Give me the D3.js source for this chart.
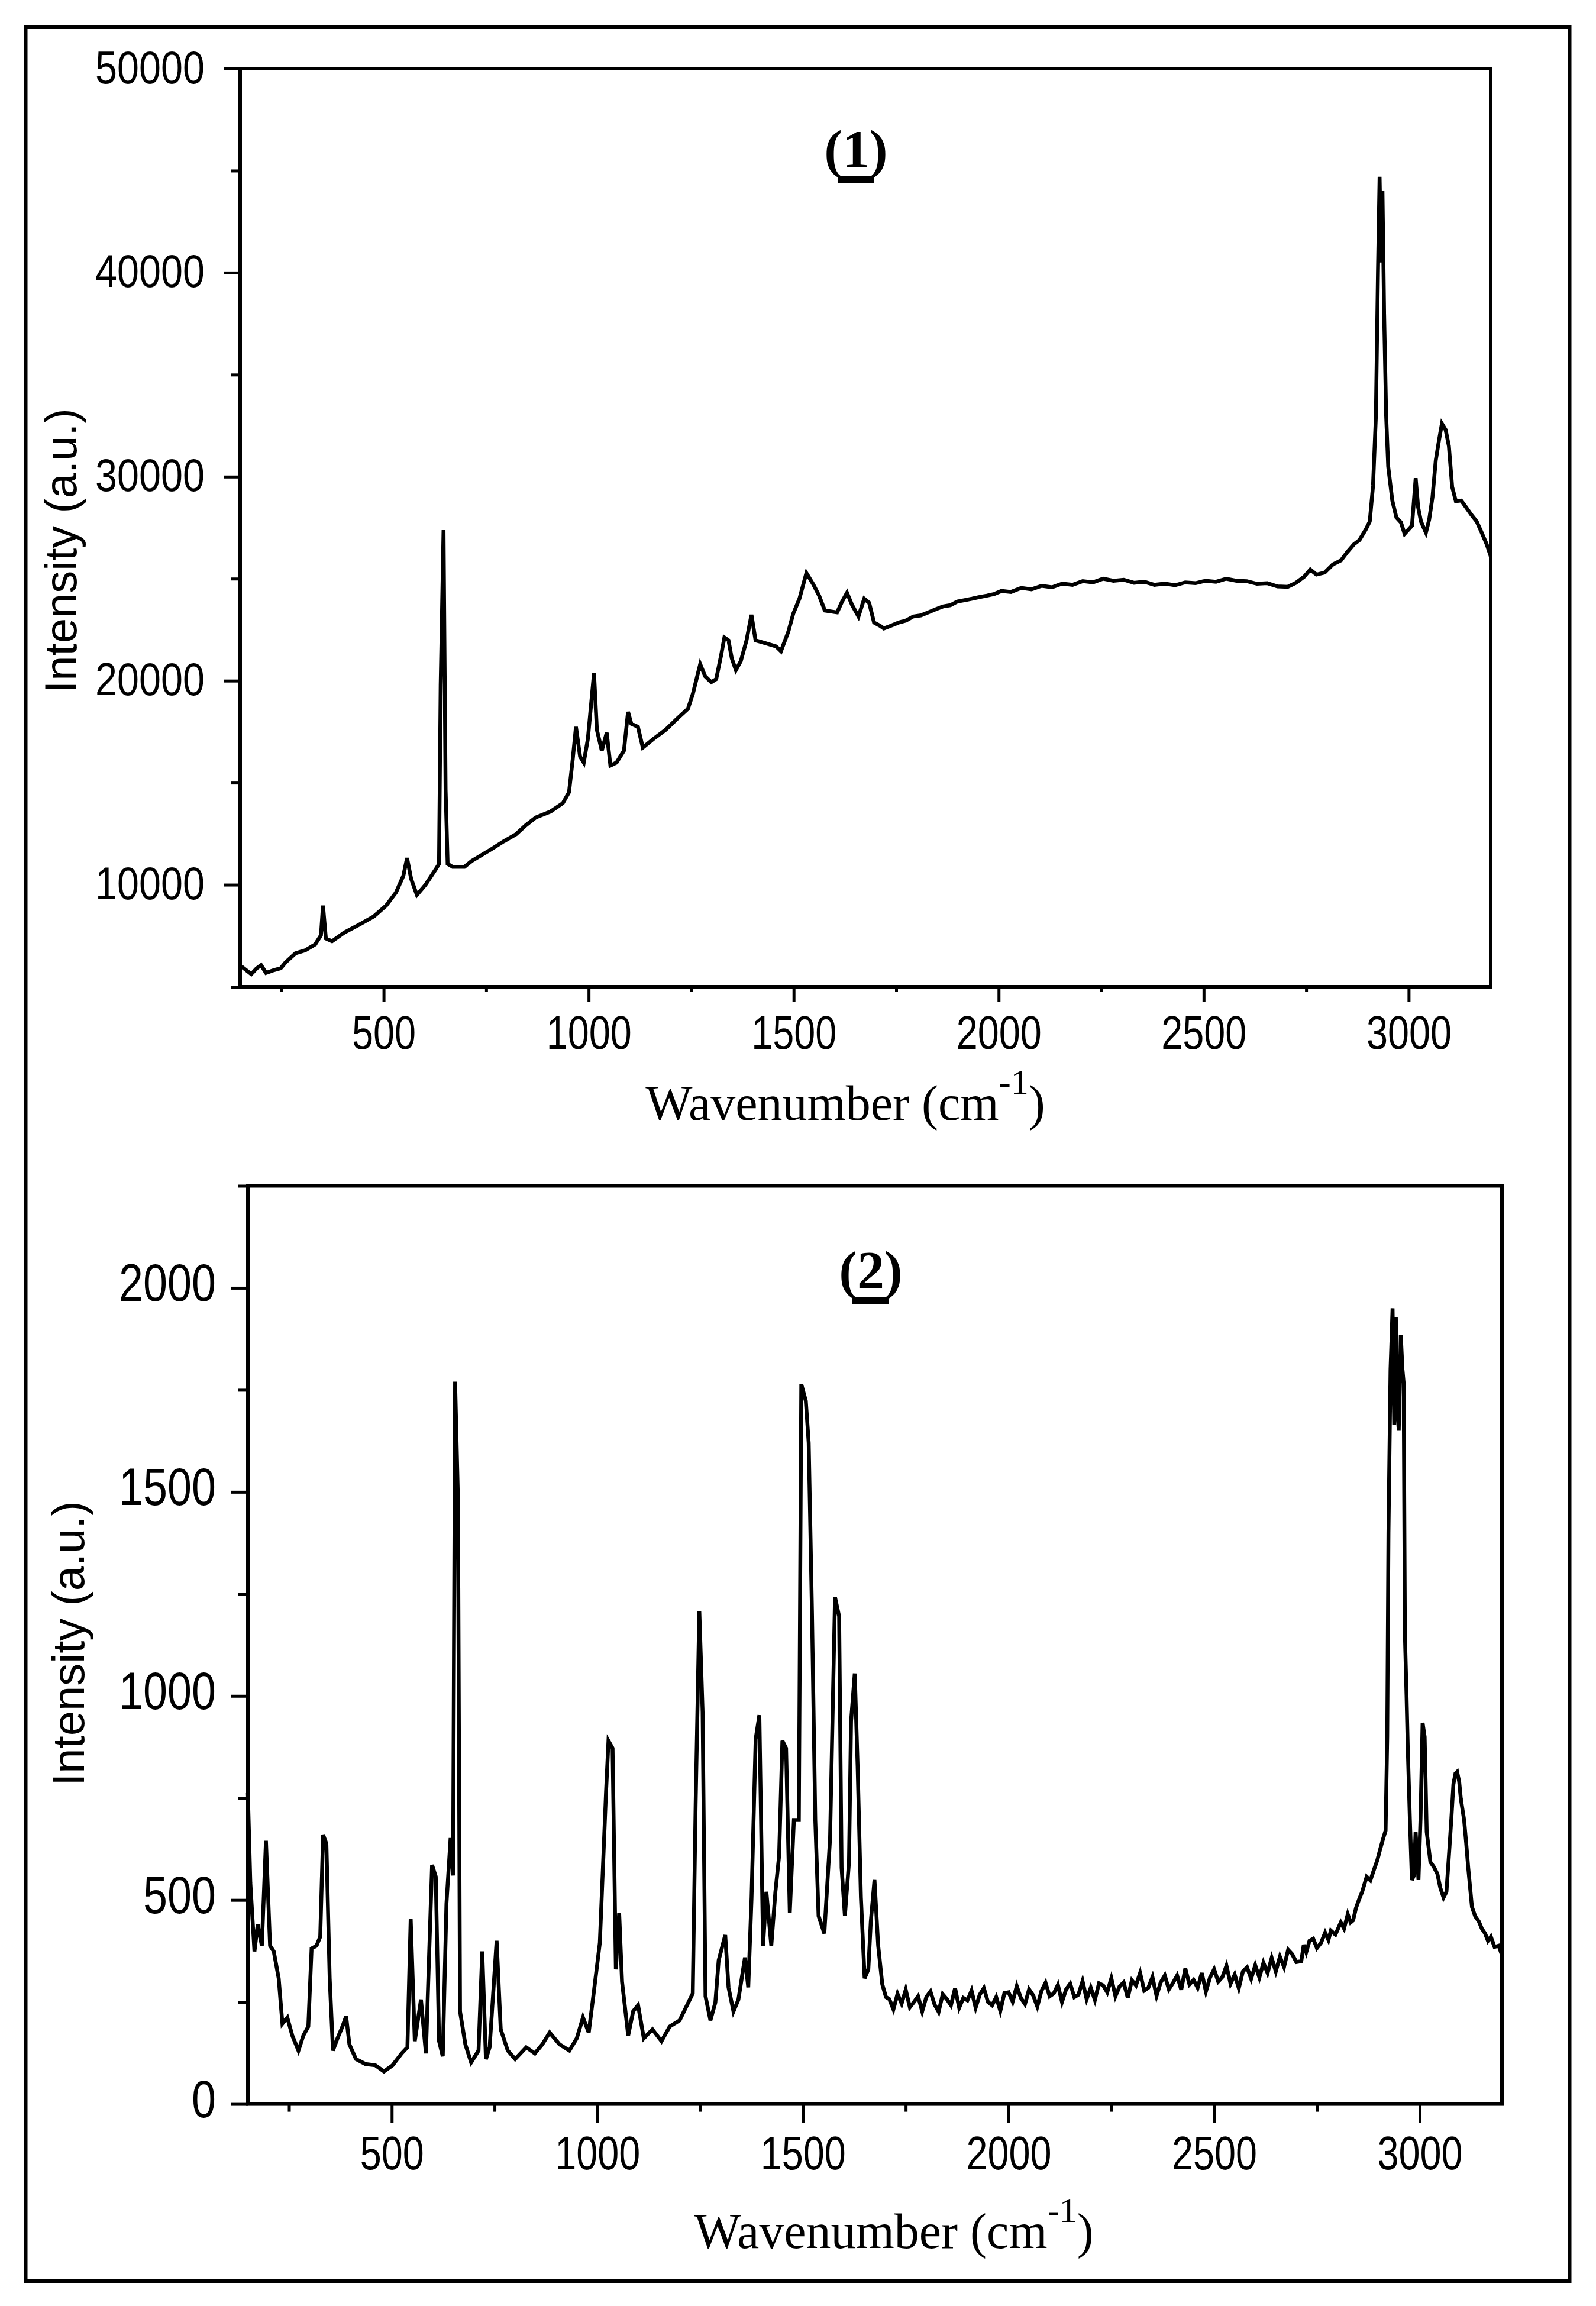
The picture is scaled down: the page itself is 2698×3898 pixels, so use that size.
<!DOCTYPE html>
<html>
<head>
<meta charset="UTF-8">
<title>Raman spectra (1) and (2)</title>
<script src="https://d3js.org/d3.v7.min.js"></script>
<style>
  body { margin: 0; background: #fff; }
  .trace { fill: none; stroke: #000; stroke-width: 6.5px; stroke-linejoin: miter; }
  .frame { fill: none; stroke: #000; stroke-width: 6px; }
  .tick line { stroke: #000; stroke-width: 5px; }
</style>
</head>
<body>
<script>
// ---- data ----
// spectrum (1): wavenumber (cm-1) / intensity (a.u.)
var wn1 = [153, 177, 190, 201, 213, 230, 249, 261, 285, 309, 333, 347, 352, 359, 374, 404, 440, 476, 506, 530,
  548, 557, 567, 581, 602, 626, 635, 639, 646, 651, 656, 668, 697, 715, 739, 763, 793, 823, 847, 871,
  907, 937, 952, 961, 969, 979, 988, 998, 1013, 1020, 1032, 1044, 1053, 1068, 1086, 1096, 1104, 1120, 1132, 1158,
  1188, 1218, 1242, 1254, 1272, 1284, 1299, 1311, 1323, 1331, 1341, 1349, 1359, 1371, 1385, 1397, 1407, 1433, 1457, 1469,
  1487, 1499, 1514, 1531, 1547, 1562, 1576, 1606, 1618, 1630, 1642, 1658, 1672, 1684, 1696, 1710, 1720, 1738, 1756, 1774,
  1792, 1810, 1828, 1846, 1864, 1882, 1899, 1917, 1935, 1953, 1971, 1989, 2007, 2030, 2055, 2080, 2105, 2130, 2155, 2180,
  2205, 2230, 2255, 2280, 2305, 2330, 2355, 2380, 2405, 2430, 2455, 2480, 2505, 2530, 2555, 2580, 2605, 2630, 2655, 2680,
  2705, 2725, 2745, 2760, 2775, 2795, 2815, 2835, 2850, 2866, 2880, 2895, 2905, 2913, 2920, 2925, 2929, 2933, 2936, 2940,
  2945, 2950, 2960, 2970, 2981, 2990, 2999, 3008, 3017, 3023, 3030, 3042, 3050, 3058, 3066, 3074, 3081, 3090, 3098, 3106,
  3115, 3128, 3140, 3153, 3166, 3178, 3190, 3200];
var int1 = [6000, 5620, 5900, 6060, 5680, 5800, 5910, 6200, 6640, 6790, 7080, 7520, 8980, 7370, 7230, 7660, 8040, 8450, 8980, 9620,
  10440, 11310, 10290, 9500, 10000, 10730, 11020, 19790, 27380, 14670, 11020, 10880, 10880, 11170, 11460, 11750, 12130, 12480, 12920, 13300,
  13590, 14000, 14530, 16130, 17740, 16280, 15990, 17150, 20370, 17600, 16570, 17450, 15840, 15990, 16570, 18470, 17890, 17740, 16720, 17150,
  17600, 18180, 18620, 19350, 20810, 20220, 19930, 20080, 21250, 22120, 21980, 21100, 20520, 20960, 21980, 23230, 21980, 21830, 21680, 21450,
  22410, 23290, 24020, 25280, 24750, 24170, 23440, 23350, 23880, 24310, 23730, 23150, 24020, 23820, 22850, 22700, 22560, 22700, 22850, 22950,
  23150, 23200, 23350, 23500, 23640, 23700, 23880, 23950, 24020, 24100, 24170, 24250, 24400, 24350, 24550, 24480, 24650, 24580, 24760, 24700,
  24880, 24820, 25000, 24900, 24950, 24800, 24850, 24700, 24760, 24680, 24820, 24780, 24900, 24850, 25000, 24900, 24880, 24750, 24780, 24620,
  24600, 24800, 25100, 25450, 25200, 25300, 25700, 25900, 26300, 26680, 26900, 27400, 27800, 29560, 33000, 40000, 44700, 40500, 44000, 38000,
  33000, 30500, 28830, 28000, 27760, 27200, 27400, 27600, 29930, 28500, 27800, 27260, 27900, 29000, 30800, 31800, 32600, 32300, 31500, 29500,
  28800, 28830, 28500, 28130, 27800, 27260, 26700, 26100];

// spectrum (2)
var wn2 = [150, 156, 166, 174, 184, 194, 204, 213, 225, 234, 246, 258, 273, 285, 297, 305, 317, 326, 333, 341,
  349, 357, 368, 380, 389, 397, 413, 436, 460, 481, 502, 524, 538, 546, 556, 571, 583, 598, 607, 615,
  624, 633, 643, 649, 654, 661, 666, 679, 693, 711, 720, 729, 738, 755, 765, 782, 800, 827, 848, 866,
  884, 908, 932, 950, 965, 979, 991, 1006, 1021, 1027, 1037, 1045, 1053, 1060, 1075, 1087, 1099, 1113, 1134, 1156,
  1176, 1200, 1218, 1232, 1239, 1248, 1256, 1263, 1275, 1287, 1295, 1311, 1319, 1331, 1343, 1359, 1367, 1375, 1385, 1394,
  1403, 1411, 1423, 1433, 1442, 1450, 1459, 1468, 1478, 1490, 1496, 1507, 1514, 1522, 1530, 1538, 1552, 1566, 1578, 1588,
  1594, 1602, 1612, 1617, 1626, 1633, 1641, 1650, 1659, 1665, 1674, 1683, 1693, 1702,
  1710, 1720, 1730, 1740, 1750, 1760, 1770, 1780, 1790, 1800, 1810, 1820, 1830, 1840, 1850, 1860, 1870, 1880, 1890, 1900,
  1910, 1920, 1930, 1940, 1950, 1960, 1970, 1980, 1990, 2000, 2010, 2020, 2030, 2040, 2050, 2060, 2070, 2080, 2090, 2100,
  2110, 2120, 2130, 2140, 2150, 2160, 2170, 2180, 2190, 2200, 2210, 2220, 2230, 2240, 2250, 2260, 2270, 2280, 2290, 2300,
  2310, 2320, 2330, 2340, 2350, 2360, 2370, 2380, 2390, 2400, 2410, 2420, 2430, 2440, 2450, 2460, 2470, 2480, 2490, 2500,
  2510, 2520, 2530, 2540, 2550, 2560, 2570, 2580, 2590, 2600, 2610, 2620, 2630, 2640, 2650, 2660, 2670, 2680, 2690, 2700,
  2712, 2718, 2724, 2732, 2741, 2750, 2760, 2770, 2778, 2784, 2795, 2808, 2816, 2825, 2832, 2838, 2845, 2852, 2860, 2871,
  2880, 2889, 2897, 2904, 2911, 2917, 2921, 2924, 2929, 2934, 2938, 2942, 2946, 2949, 2954, 2958, 2961, 2964, 2968, 2971,
  2976, 2981, 2986, 2990, 2994, 2997, 3002, 3007, 3012, 3017, 3026, 3035, 3043, 3050, 3058, 3065, 3072, 3077, 3082, 3087,
  3091, 3096, 3100, 3108, 3113, 3118, 3127, 3135, 3144, 3151, 3159, 3166, 3173, 3182, 3192, 3200];
var int2 = [762, 542, 374, 440, 388, 645, 388, 374, 308, 197, 212, 168, 131, 168, 190, 381, 388, 410, 660, 638,
  308, 131, 161, 190, 215, 146, 110, 98, 95, 80, 95, 124, 139, 454, 154, 256, 124, 586, 557, 154,
  117, 491, 652, 560, 1770, 1481, 227, 146, 102, 131, 374, 110, 139, 400, 183, 131, 110, 139, 124, 146,
  175, 146, 131, 161, 212, 175, 271, 395, 762, 890, 872, 330, 469, 300, 168, 227, 242, 161, 183, 154,
  190, 205, 242, 271, 733, 1207, 960, 264, 205, 249, 352, 414, 286, 227, 256, 359, 286, 506, 894, 953,
  388, 520, 388, 520, 608, 890, 872, 469, 696, 696, 1764, 1723, 1620, 1202, 696, 461, 418, 652, 1242, 1195,
  579, 461, 593, 938, 1055, 828, 506, 308, 330, 447, 549, 388, 293, 262,
  257, 232, 270, 246, 280, 237, 250, 264, 227, 262, 276, 244, 226, 269, 257, 242, 284, 236, 260, 254,
  278, 236, 268, 284, 250, 242, 262, 228, 272, 274, 251, 289, 260, 245, 281, 266, 239, 277, 297, 264,
  271, 292, 250, 281, 295, 262, 268, 301, 257, 285, 255, 296, 291, 274, 308, 264, 288, 298, 260, 303,
  291, 321, 278, 285, 311, 265, 298, 315, 281, 297, 315, 280, 332, 293, 304, 285, 321, 276, 310, 330,
  300, 311, 339, 295, 317, 284, 325, 335, 307, 340, 310, 346, 321, 358, 325, 361, 336, 378, 367, 348,
  350, 390, 372, 400, 405, 382, 395, 420, 402, 425, 415, 445, 430, 465, 445, 450, 480, 500, 520, 557,
  548, 575, 598, 625, 650, 670, 900, 1400, 1800, 1950, 1664, 1928, 1700, 1650, 1884, 1800, 1767, 1151, 1000, 872,
  700, 549, 560, 667, 600, 549, 700, 934, 900, 667, 593, 580, 564, 530, 506, 520, 623, 700, 784, 810,
  814, 790, 748, 696, 640, 579, 483, 460, 447, 430, 418, 400, 410, 385, 388, 365];

var xTicks = [500, 1000, 1500, 2000, 2500, 3000];
var xMinor = [250, 750, 1250, 1750, 2250, 2750];
var yTicks1 = [10000, 20000, 30000, 40000, 50000];
var yMinor1 = [5000, 15000, 25000, 35000, 45000];
var yTicks2 = [0, 500, 1000, 1500, 2000];
var yMinor2 = [250, 750, 1250, 1750, 2250];
var titles = ["(", "1", ")", "(", "2", ")"];

// ---- layout ----
var W = 2698, H = 3898;
var svg = d3.select("body").append("svg")
  .attr("width", W).attr("height", H)
  .style("display", "block")
  .style("background", "#fff");

// outer border round both panels
svg.append("rect").attr("class", "frame")
  .attr("x", 43.5).attr("y", 46).attr("width", 2610).attr("height", 3810);

var panels = [
  { left: 406, right: 2520, top: 116, bottom: 1668,
    wn: wn1, val: int1, yDomain: [5000, 50000], yTicks: yTicks1, yMinor: yMinor1,
    xMajor: 26, xMinorLen: 9, xLabY: 105, xLabW: 36, xFont: 80,
    yLabGap: 60, yLabDy: 24, yLabW: 37, yFont: 78,
    title: titles.slice(0, 3), titleX: 1447, titleY: 283,
    yTitleX: 129, yTitleY: 931, xTitleX: 1429, xTitleY: 1893 },
  { left: 419, right: 2539, top: 2004.5, bottom: 3556.6,
    wn: wn2, val: int2, yDomain: [0, 2250], yTicks: yTicks2, yMinor: yMinor2,
    xMajor: 32, xMinorLen: 13, xLabY: 110, xLabW: 36, xFont: 80,
    yLabGap: 54, yLabDy: 22, yLabW: 41, yFont: 89,
    title: titles.slice(3, 6), titleX: 1472, titleY: 2178,
    yTitleX: 142, yTitleY: 2778, xTitleX: 1511, xTitleY: 3800 }
];

function drawPanel(p) {
  var x = d3.scaleLinear().domain([150, 3200]).range([p.left, p.right]);
  var y = d3.scaleLinear().domain(p.yDomain).range([p.bottom, p.top]);
  var g = svg.append("g");

  // minor ticks first
  var gxm = g.append("g").attr("transform", "translate(0," + p.bottom + ")")
    .call(d3.axisBottom(x).tickValues(xMinor).tickSize(p.xMinorLen).tickFormat(""));
  gxm.select(".domain").remove();
  var gym = g.append("g").attr("transform", "translate(" + p.left + ",0)")
    .call(d3.axisLeft(y).tickValues(p.yMinor).tickSize(16).tickFormat(""));
  gym.select(".domain").remove();

  // major ticks + labels
  var gx = g.append("g").attr("transform", "translate(0," + p.bottom + ")")
    .call(d3.axisBottom(x).tickValues(xTicks).tickSize(p.xMajor).tickFormat(d3.format("d")));
  gx.select(".domain").remove();
  gx.attr("font-family", "'Liberation Sans', Arial, sans-serif").attr("font-size", p.xFont);
  gx.selectAll("text")
    .attr("y", p.xLabY).attr("dy", null).attr("fill", "#000")
    .attr("textLength", function(d) { return String(d).length * p.xLabW; })
    .attr("lengthAdjust", "spacingAndGlyphs");

  var gy = g.append("g").attr("transform", "translate(" + p.left + ",0)")
    .call(d3.axisLeft(y).tickValues(p.yTicks).tickSize(28).tickFormat(d3.format("d")));
  gy.select(".domain").remove();
  gy.attr("font-family", "'Liberation Sans', Arial, sans-serif").attr("font-size", p.yFont);
  gy.selectAll("text")
    .attr("x", -p.yLabGap).attr("dy", null).attr("y", p.yLabDy).attr("fill", "#000")
    .attr("textLength", function(d) { return String(d).length * p.yLabW; })
    .attr("lengthAdjust", "spacingAndGlyphs");

  // the spectrum
  var pts = p.wn.map(function(w, i) { return [w, p.val[i]]; });
  var line = d3.line()
    .x(function(d) { return x(d[0]); })
    .y(function(d) { return y(d[1]); });
  g.append("path").datum(pts).attr("class", "trace").attr("d", line);

  // plot box
  g.append("rect").attr("class", "frame")
    .attr("x", p.left).attr("y", p.top)
    .attr("width", p.right - p.left).attr("height", p.bottom - p.top);

  // panel title, digit underlined
  var t = g.append("text")
    .attr("x", p.titleX).attr("y", p.titleY)
    .attr("text-anchor", "middle")
    .attr("font-family", "'Liberation Serif', 'Times New Roman', serif")
    .attr("font-weight", "bold").attr("font-size", 92)
    .text(p.title.join(""));
  var box = t.node().getExtentOfChar(1);
  g.append("rect")
    .attr("x", box.x - 8).attr("y", p.titleY + 14)
    .attr("width", box.width + 16).attr("height", 12)
    .attr("fill", "#000");

  // axis titles
  g.append("text")
    .attr("transform", "translate(" + p.yTitleX + "," + p.yTitleY + ") rotate(-90)")
    .attr("text-anchor", "middle")
    .attr("font-family", "'Liberation Sans', Arial, sans-serif")
    .attr("font-size", 76)
    .text("Intensity (a.u.)");

  var xt = g.append("text")
    .attr("x", p.xTitleX).attr("y", p.xTitleY)
    .attr("text-anchor", "middle")
    .attr("font-family", "'Liberation Serif', 'Times New Roman', serif")
    .attr("font-size", 84);
  xt.append("tspan").text("Wavenumber (cm");
  xt.append("tspan").attr("font-size", 60).attr("dy", -44).text("-1");
  xt.append("tspan").attr("dy", 44).text(")");
}

panels.forEach(drawPanel);
</script>
</body>
</html>
